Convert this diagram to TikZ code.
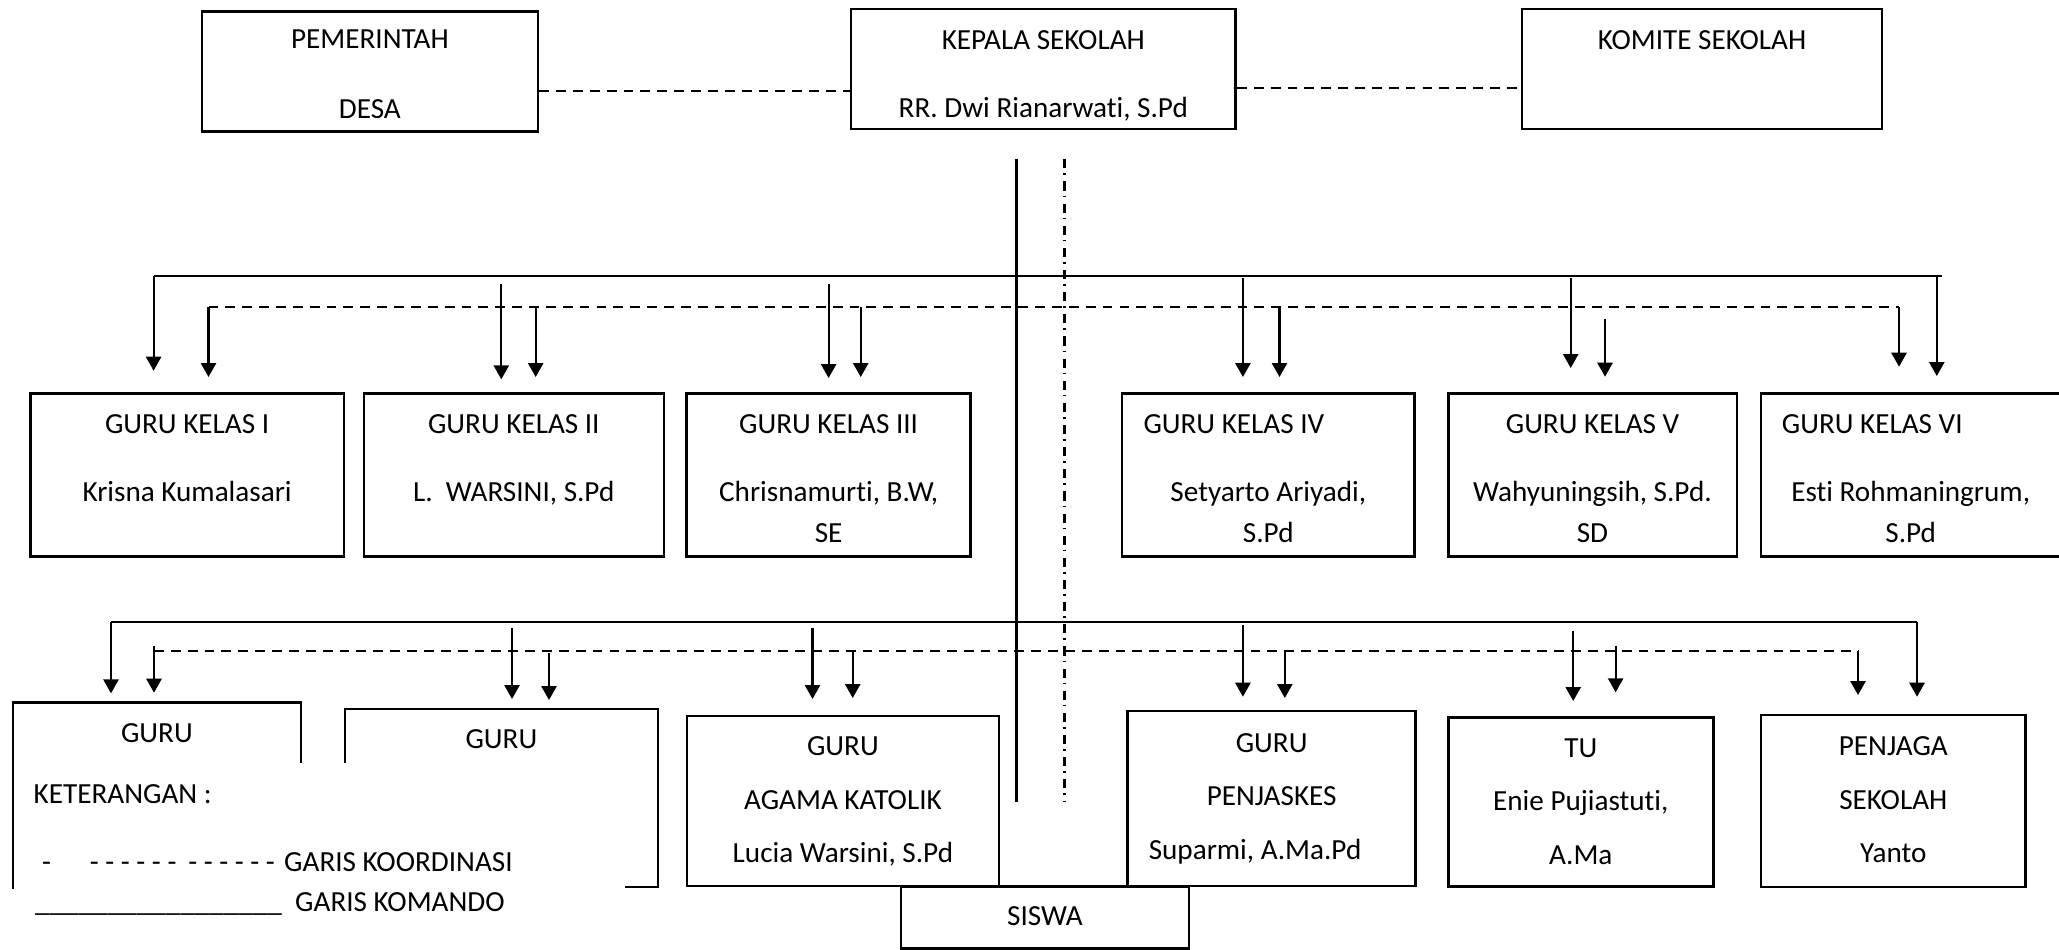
\documentclass[tikz,border=0pt]{standalone}
\usepackage{fontspec}
\setmainfont{Carlito}[Ligatures=NoCommon]
\usetikzlibrary{arrows.meta}

\newcommand{\tinggi}[1]{\rule{0pt}{#1}}

\tikzset{
    kotak/.style={draw, line width=0.7pt, inner sep=0pt, align=center,
        font=\fontsize{8.3}{11.5}\selectfont},
    teks/.style={inner sep=0pt, anchor=base west, font=\fontsize{8.3}{11.5}\selectfont},
    komando/.style={line width=0.6pt},
    koordinasi/.style={line width=0.6pt, dash pattern=on 2.8pt off 2pt},
    titikgaris/.style={line width=0.6pt, dash pattern=on 2.6pt off 1.4pt on 0.45pt off 1.85pt},
    panah/.style={line width=0.6pt, -{Triangle[width=1.52mm,length=1.4mm]}}
}

\begin{document}
\begin{tikzpicture}
    \useasboundingbox (0,0) rectangle (20.59,-9.49);

    \node[kotak, minimum width=3.362cm, minimum height=1.2cm] (pemdes) at (3.699,-0.717) {\tinggi{10.3pt}PEMERINTAH\\[8.35pt]DESA\strut};
    \node[kotak, minimum width=3.848cm, minimum height=1.2cm] (kepsek) at (10.433,-0.69) {\tinggi{11.45pt}KEPALA SEKOLAH\\[7.85pt]RR. Dwi Rianarwati, S.Pd\strut};
    \node[kotak, minimum width=3.6cm, minimum height=1.2cm] (komite) at (17.02,-0.69) {\tinggi{11.45pt}KOMITE SEKOLAH\\[7.85pt]\strut};

    \node[kotak, minimum width=3.134cm, minimum height=1.634cm] (kelas1) at (1.871,-4.75) {\tinggi{10.65pt}GURU KELAS I\\[8.1pt]Krisna Kumalasari\\\strut};
    \node[kotak, minimum width=3.0cm, minimum height=1.634cm] (kelas2) at (5.138,-4.75) {\tinggi{10.65pt}GURU KELAS II\\[8.1pt]L.\ \ WARSINI, S.Pd\\\strut};
    \node[kotak, minimum width=2.839cm, minimum height=1.634cm] (kelas3) at (8.286,-4.75) {\tinggi{10.65pt}GURU KELAS III\\[8.1pt]Chrisnamurti, B.W,\\SE\strut};
    \node[kotak, minimum width=2.928cm, minimum height=1.634cm] (kelas4) at (12.683,-4.75) {\tinggi{10.65pt}GURU KELAS IV\hspace*{19.6pt}\\[8.1pt]Setyarto Ariyadi,\\S.Pd\strut};
    \node[kotak, minimum width=2.884cm, minimum height=1.634cm] (kelas5) at (15.925,-4.75) {\tinggi{10.65pt}GURU KELAS V\\[8.1pt]Wahyuningsih, S.Pd.\\SD\strut};
    \node[kotak, minimum width=2.994cm, minimum height=1.634cm] (kelas6) at (19.107,-4.75) {\tinggi{10.65pt}GURU KELAS VI\hspace*{21.9pt}\\[8.1pt]Esti Rohmaningrum,\\S.Pd\strut};

    \node[kotak, minimum width=2.883cm, minimum height=1.846cm] (guru1) at (1.569,-7.95) {\tinggi{8.45pt}GURU\\[23.2pt]\strut};
    \node[kotak, minimum width=3.127cm, minimum height=1.777cm] (guru2) at (5.014,-7.979) {\tinggi{8.45pt}GURU\\[21.6pt]\strut};
    \node[kotak, minimum width=3.122cm, minimum height=1.703cm] (agama) at (8.429,-8.009) {\tinggi{8.05pt}GURU\\[3.7pt]AGAMA KATOLIK\\[3.7pt]Lucia Warsini, S.Pd\strut};
    \node[kotak, minimum width=2.878cm, minimum height=1.75cm] (penjas) at (12.716,-7.985) {\tinggi{7.6pt}GURU\\[3.7pt]PENJASKES\\[3.7pt]Suparmi, A.Ma.Pd\hspace*{9.4pt}\strut};
    \node[kotak, minimum width=2.649cm, minimum height=1.694cm] (tu) at (15.808,-8.02) {\tinggi{8.45pt}TU\\[3.7pt]Enie Pujiastuti,\\[3.7pt]A.Ma\strut};
    \node[kotak, minimum width=2.645cm, minimum height=1.717cm] (penjaga) at (18.933,-8.009) {\tinggi{8.05pt}PENJAGA\\[3.7pt]SEKOLAH\\[3.7pt]Yanto\strut};
    \node[kotak, minimum width=2.879cm, minimum height=0.616cm] (siswa) at (10.449,-9.175) {\strut SISWA};

    \coordinate (pk) at ([yshift=-0.19cm]pemdes.east);
    \draw[koordinasi] (pk) -- (pk -| kepsek.west);
    \coordinate (kk) at ([yshift=-0.193cm]kepsek.east);
    \draw[koordinasi] (kk) -- (kk -| komite.west);

    \coordinate (kmd0) at (10.165,-1.593);
    \coordinate (kmd1) at (10.165,-8.017);
    \draw[komando] (kmd0) -- (kmd1);
    \coordinate (krd0) at (10.645,-1.593);
    \coordinate (krd1) at (10.645,-8.017);
    \draw[titikgaris] (krd0) -- (krd1);

    \coordinate (busa0) at (1.536,-2.76);
    \coordinate (busa1) at (19.42,-2.76);
    \draw[komando] (busa0) -- (busa1);
    \coordinate (busad0) at (2.085,-3.073);
    \coordinate (busad1) at (18.99,-3.073);
    \draw[koordinasi] (busad0) -- (busad1);
    \coordinate (busb0) at (1.11,-6.223);
    \coordinate (busb1) at (19.17,-6.223);
    \draw[komando] (busb0) -- (busb1);
    \coordinate (busbd0) at (1.54,-6.507);
    \coordinate (busbd1) at (18.58,-6.507);
    \draw[koordinasi] (busbd0) -- (busbd1);

    \foreach \n/\x/\a/\b in {a1/1.536/-2.76/-3.707, a2/5.013/-2.84/-3.793, a3/8.286/-2.84/-3.78,
        a4/12.429/-2.78/-3.77, a5/15.707/-2.78/-3.68, a6/19.368/-2.76/-3.76,
        d1/2.085/-3.073/-3.77, d2/5.357/-3.073/-3.77, d3/8.607/-3.073/-3.77,
        d4/12.795/-3.08/-3.77, d5/16.05/-3.19/-3.767, d6/18.99/-3.073/-3.667,
        b1/1.11/-6.223/-6.933, b2/5.12/-6.283/-6.99, b3/8.125/-6.28/-6.99,
        b4/12.429/-6.25/-6.967, b5/15.732/-6.307/-7.01, b6/19.17/-6.223/-6.967,
        e1/1.54/-6.46/-6.927, e2/5.49/-6.53/-7.0, e3/8.527/-6.507/-6.98,
        e4/12.848/-6.507/-6.98, e5/16.156/-6.457/-6.923, e6/18.58/-6.507/-6.95}
    {
        \coordinate (s\n) at (\x,\a);
        \coordinate (t\n) at (\x,\b);
        \draw[panah] (s\n) -- (t\n);
    }

    \fill[white] (0.14,-7.633) rectangle (6.25,-9.49);
    \node[teks] (ket) at (0.33,-8.034) {KETERANGAN :};
    \node[teks] (tanda) at (0.415,-8.711) {-};
    \node[teks] (garis1) at (0.892,-8.711) {- - - - - -\hspace{1.5pt} - - - - - -};
    \node[teks] (koord) at (2.835,-8.711) {GARIS KOORDINASI};
    \node[teks] (garis2) at (0.343,-9.117) {\_\_\_\_\_\_\_\_\_\_\_\_\_\_\_\_\_};
    \node[teks] (kmdo) at (2.945,-9.117) {GARIS KOMANDO};
\end{tikzpicture}
\end{document}
